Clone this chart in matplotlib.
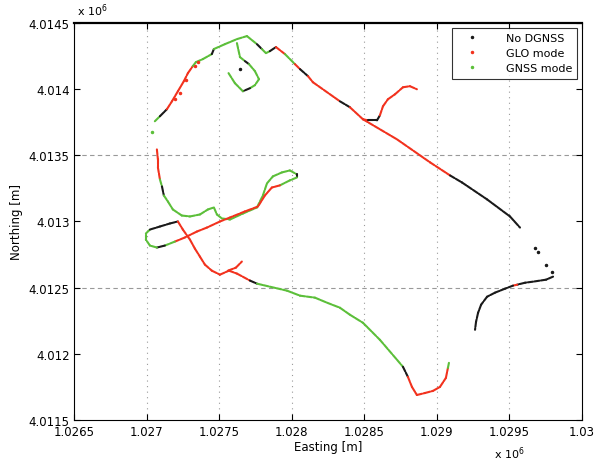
import numpy as np
import matplotlib
matplotlib.use('Agg')
import matplotlib.pyplot as plt
from matplotlib.ticker import FuncFormatter

# mode per point: 'k' = No DGNSS, 'r' = GLO mode, 'g' = GNSS mode
COLORS = {'k': '#1a1a1a', 'r': '#f2321e', 'g': '#5cbf3a'}
LABELS = {'k': 'No DGNSS', 'r': 'GLO mode', 'g': 'GNSS mode'}

# main track, north-west start down the long diagonal
t1_east = [1027055, 1027090, 1027138, 1027173, 1027214, 1027255, 1027283, 1027317,
           1027338, 1027386, 1027448, 1027462, 1027538, 1027621, 1027690, 1027724,
           1027759, 1027793, 1027821, 1027848, 1027890, 1027952, 1028021, 1028056,
           1028111, 1028145, 1028331, 1028400, 1028490, 1028725, 1028953, 1029091,
           1029173, 1029346, 1029504, 1029573]
t1_north = [4013758, 4013796, 4013849, 4013909, 4013985, 4014061, 4014122, 4014175,
            4014205, 4014228, 4014266, 4014304, 4014341, 4014379, 4014402, 4014372,
            4014341, 4014304, 4014273, 4014288, 4014319, 4014266, 4014190, 4014152,
            4014099, 4014053, 4013909, 4013864, 4013773, 4013621, 4013447, 4013348,
            4013295, 4013167, 4013038, 4012954]
t1_mode = 'gkrrrrrgggkgggggkggkrgrkrrkrrrrkkkkk'

# branch curling up to the north-east
t2_east = [1028490, 1028525, 1028587, 1028607, 1028628, 1028662, 1028711, 1028766, 1028814, 1028862]
t2_north = [4013773, 4013765, 4013765, 4013803, 4013871, 4013924, 4013962, 4014015, 4014023, 4014000]
t2_mode = 'rkkrrrrrrr'

# small loop at the top
t3_east = [1027621, 1027642, 1027676, 1027704, 1027745, 1027773, 1027745, 1027711, 1027662, 1027607, 1027559]
t3_north = [4014349, 4014243, 4014213, 4014190, 4014137, 4014076, 4014031, 4014008, 4013985, 4014046, 4014129]
t3_mode = 'ggkggggkggg'

# east hook
t4_east = [1029801, 1029753, 1029663, 1029608, 1029553, 1029525, 1029470, 1029401, 1029346,
           1029305, 1029284, 1029270, 1029263]
t4_north = [4012583, 4012560, 4012545, 4012537, 4012522, 4012515, 4012492, 4012462, 4012431,
            4012371, 4012310, 4012242, 4012181]
t4_mode = 'kkkkrkkkkkkkk'

# west part: down, round the loops, then south-east to the hook
t5_east = [1027069, 1027076, 1027076, 1027090, 1027104, 1027117, 1027145, 1027179, 1027241,
           1027297, 1027366, 1027421, 1027462, 1027483, 1027517, 1027573, 1027662, 1027759,
           1027800, 1027828, 1027869, 1027931, 1027986, 1028035, 1028035, 1027986, 1027917,
           1027862, 1027814, 1027766, 1027676, 1027573, 1027504, 1027414, 1027345, 1027262,
           1027193, 1027124, 1027069, 1027021, 1026993, 1026993, 1027021, 1027090, 1027159,
           1027214, 1027248, 1027297, 1027331, 1027366, 1027400, 1027448, 1027504, 1027566,
           1027621, 1027711, 1027759, 1027848, 1027966, 1028056, 1028159, 1028242, 1028331,
           1028400, 1028490, 1028607, 1028725, 1028766, 1028800, 1028828, 1028862, 1028918,
           1028973, 1029021, 1029062, 1029076, 1029083]
t5_north = [4013545, 4013470, 4013409, 4013318, 4013265, 4013197, 4013151, 4013091, 4013045,
            4013038, 4013053, 4013091, 4013106, 4013053, 4013023, 4013015, 4013060, 4013106,
            4013197, 4013288, 4013341, 4013371, 4013386, 4013356, 4013333, 4013311, 4013273,
            4013257, 4013197, 4013113, 4013076, 4013030, 4013000, 4012954, 4012924, 4012879,
            4012848, 4012818, 4012803, 4012818, 4012863, 4012909, 4012939, 4012962, 4012985,
            4013000, 4012939, 4012863, 4012795, 4012734, 4012674, 4012628, 4012598, 4012628,
            4012606, 4012553, 4012530, 4012507, 4012477, 4012439, 4012424, 4012386, 4012348,
            4012295, 4012234, 4012105, 4011954, 4011901, 4011825, 4011749, 4011688, 4011703,
            4011719, 4011749, 4011817, 4011893, 4011931]
t5_mode = 'rrrgkggggggggggggggggggkggrrrrrrrrrrgkggggkkkrrrrrrrrrrkgggggggggggkrrrrrrrgg'

# short red spur
t6_east = [1027559, 1027614, 1027655]
t6_north = [4012628, 4012651, 4012697]
t6_mode = 'rrr'

# loose points
pts_east = [1029677, 1029698, 1029753, 1029794, 1027035, 1027642, 1027352, 1027331, 1027228, 1027196, 1027268]
pts_north = [4012803, 4012772, 4012674, 4012621, 4013674, 4014152, 4014205, 4014175, 4013970, 4013930, 4014070]
pts_mode = 'kkkkgkrrrrr'

x_ticks = np.arange(1026500, 1030001, 500)
y_ticks = np.arange(4011500, 4014501, 500)


def draw_track(ax, east, north, mode):
    for i in range(len(east) - 1):
        ax.plot(east[i:i + 2], north[i:i + 2], color=COLORS[mode[i]], lw=1.5,
                ls=(0, (2.5, 0.7)), dash_capstyle='round')


plt.rcParams['font.family'] = 'DejaVu Sans'
fig = plt.figure(figsize=(5.95, 4.64), dpi=100)
ax = fig.add_axes([0.125, 0.093, 0.853, 0.855])

for e, n, m in [(t1_east, t1_north, t1_mode), (t2_east, t2_north, t2_mode),
                (t3_east, t3_north, t3_mode), (t4_east, t4_north, t4_mode),
                (t5_east, t5_north, t5_mode), (t6_east, t6_north, t6_mode)]:
    draw_track(ax, e, n, m)

for e, n, m in zip(pts_east, pts_north, pts_mode):
    ax.plot(e, n, '.', color=COLORS[m], ms=3)

# grid: dotted verticals, dashed horizontals only at two levels
for xv in x_ticks[1:-1]:
    ax.axvline(xv, color='#999999', ls=(0, (1, 4)), lw=0.8, zorder=0)
for yv in [4012500, 4013500]:
    ax.axhline(yv, color='#999999', ls=(0, (4, 3)), lw=0.8, zorder=0)

ax.set_xlim(x_ticks[0], x_ticks[-1])
ax.set_ylim(y_ticks[0], y_ticks[-1])
ax.set_xticks(x_ticks)
ax.set_yticks(y_ticks)
fmt = FuncFormatter(lambda v, _: f'{v / 1e6:g}')
ax.xaxis.set_major_formatter(fmt)
ax.yaxis.set_major_formatter(fmt)
ax.tick_params(direction='in', top=True, right=True, labelsize=8.5, length=4)
for s in ax.spines.values():
    s.set_linewidth(0.8)
ax.spines['top'].set_linewidth(1.6)

ax.set_xlabel('Easting [m]', fontsize=8.5, labelpad=2)
ax.set_ylabel('Northing [m]', fontsize=8.5, labelpad=4)
fig.text(0.13, 0.958, r'x 10$^6$', fontsize=8, ha='left', va='bottom')
fig.text(0.83, 0.004, r'x 10$^6$', fontsize=8, ha='left', va='bottom')

handles = [plt.Line2D([], [], ls='none', marker='.', ms=3, color=COLORS[k]) for k in 'krg']
leg = ax.legend(handles, [LABELS[k] for k in 'krg'], loc='upper right', fontsize=8,
                frameon=True, fancybox=False, edgecolor='black', borderaxespad=0.4,
                handlelength=2.5, handletextpad=1.8, labelspacing=0.45, borderpad=0.5)
leg.get_frame().set_linewidth(0.8)

fig.savefig('out.png', dpi=100)
